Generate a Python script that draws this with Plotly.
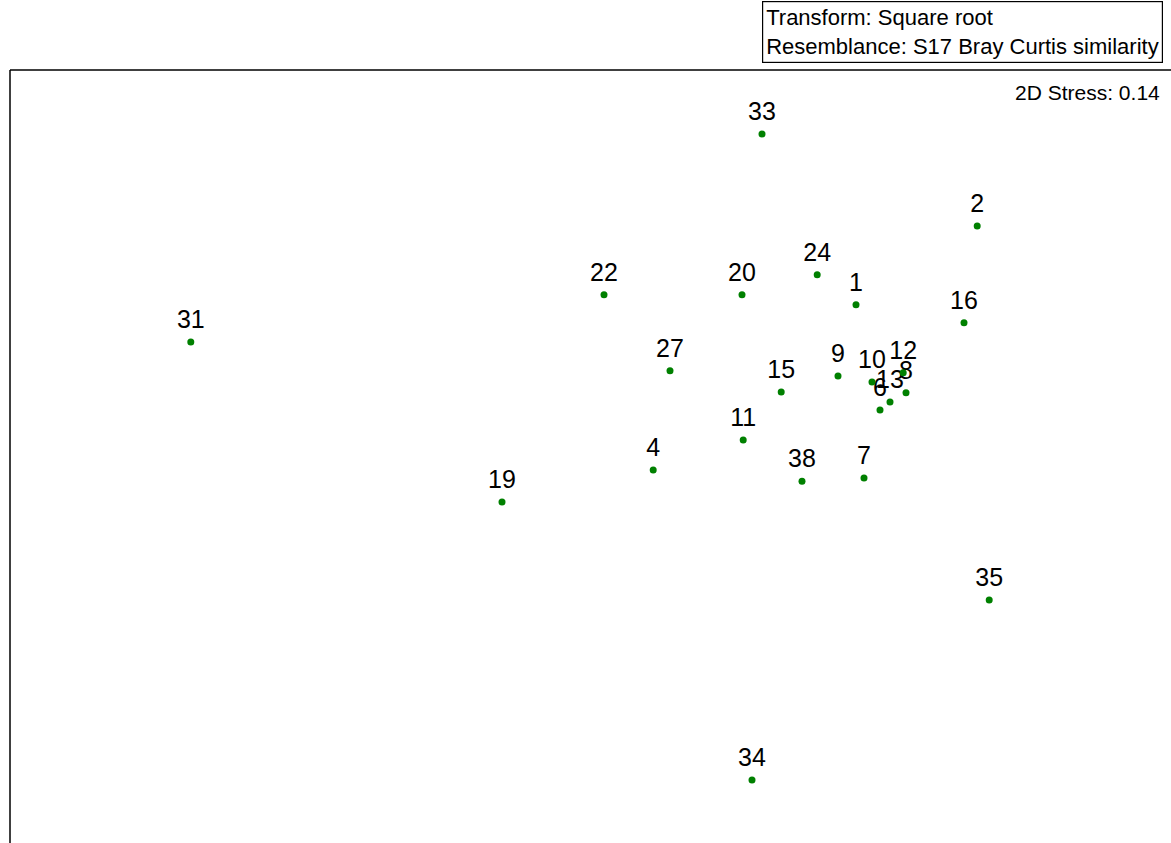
import plotly.graph_objects as go

# nMDS ordination coordinates for each sample
samples = ["33", "2", "24", "22", "20", "1", "16", "31", "27", "9", "10", "12",
           "15", "8", "13", "6", "11", "4", "7", "38", "19", "35", "34"]
mds1 = [0.430, 0.968, 0.568, 0.035, 0.380, 0.665, 0.935, -0.998, 0.200, 0.620, 0.705, 0.783,
        0.478, 0.790, 0.750, 0.725, 0.383, 0.158, 0.685, 0.530, -0.220, 0.998, 0.405]
mds2 = [0.790, 0.560, 0.438, 0.388, 0.388, 0.363, 0.318, 0.270, 0.198, 0.185, 0.170, 0.193,
        0.145, 0.143, 0.120, 0.100, 0.025, -0.050, -0.070, -0.078, -0.130, -0.375, -0.825]

stress = 0.14
info_lines = ["Transform: Square root", "Resemblance: S17 Bray Curtis similarity"]

FONT = "Liberation Sans, Arial, sans-serif"

fig = go.Figure()

# sample labels, spaced above the points by an invisible marker
fig.add_trace(go.Scatter(
    x=mds1, y=mds2, mode="markers+text",
    text=samples, textposition="top center",
    textfont=dict(family=FONT, size=25, color="black"),
    marker=dict(color="rgba(0,0,0,0)", size=11),
    hoverinfo="skip", showlegend=False,
))

# sample points
fig.add_trace(go.Scatter(
    x=mds1, y=mds2, mode="markers", text=samples,
    marker=dict(color="#008000", size=7),
    hoverinfo="text", showlegend=False,
))

fig.update_layout(
    width=1171, height=843,
    margin=dict(l=10, r=0, t=70, b=0),
    paper_bgcolor="white", plot_bgcolor="white",
    xaxis=dict(range=[-1.45, 1.4525], visible=False, fixedrange=True),
    yaxis=dict(range=[-0.9825, 0.95], visible=False, fixedrange=True),
    font=dict(family=FONT, color="black"),
)

# plot frame: only left and top edges fall inside the page
fig.add_shape(type="line", xref="paper", yref="paper", x0=0, x1=0, y0=0, y1=1,
              line=dict(color="black", width=1.5))
fig.add_shape(type="line", xref="paper", yref="paper", x0=0, x1=1.01, y0=1, y1=1,
              line=dict(color="black", width=1.5))

# info box above the plot
fig.add_annotation(
    xref="paper", yref="paper", x=1.0, y=1.0, xanchor="right", yanchor="bottom",
    yshift=7, xshift=-8,
    text="<br>".join(info_lines), align="left", showarrow=False,
    font=dict(family=FONT, size=22, color="black"),
    bordercolor="black", borderwidth=1.2, borderpad=3, bgcolor="white",
)

fig.add_annotation(
    xref="paper", yref="paper", x=1.0, y=1.0, xanchor="right", yanchor="top",
    xshift=-9, yshift=-9,
    text=f"2D Stress: {stress:.2f}", showarrow=False,
    font=dict(family=FONT, size=21, color="black"),
)

fig.write_html("out.html")
